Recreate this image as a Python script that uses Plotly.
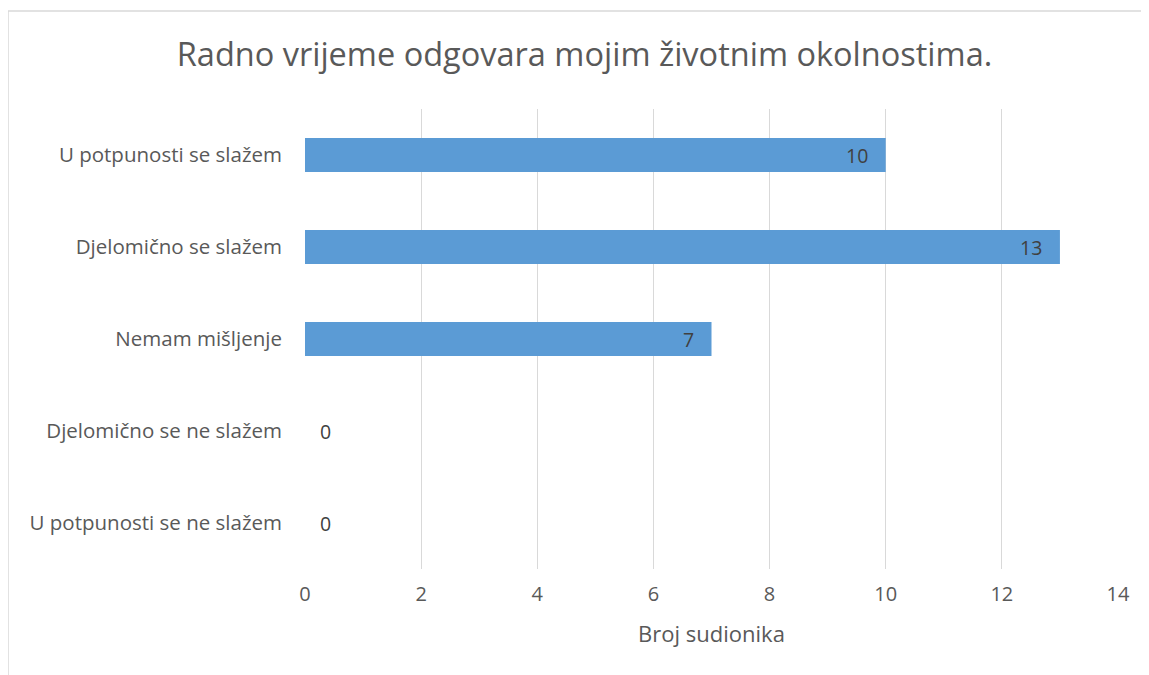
import plotly.graph_objects as go

categories = ["U potpunosti se slažem", "Djelomično se slažem", "Nemam mišljenje",
              "Djelomično se ne slažem", "U potpunosti se ne slažem"]
values = [10, 13, 7, 0, 0]
x_ticks = [0, 2, 4, 6, 8, 10, 12, 14]
title_text = "Radno vrijeme odgovara mojim životnim okolnostima."
x_title = "Broj sudionika"

FONT = "Open Sans"
bar_color = "#5B9BD5"

# page body has an 8px margin, so figure is offset by 8px
W, H = 1149, 675

fig = go.Figure(go.Bar(
    x=values, y=categories, orientation="h",
    marker=dict(color=bar_color, line=dict(width=0)),
    width=0.37,
))

for c, v in zip(categories, values):
    if v > 0:
        fig.add_annotation(x=v, y=c, text=str(v), showarrow=False,
                           xanchor="right", xshift=-16,
                           font=dict(family=FONT, size=19.5, color="#404040"))
    else:
        fig.add_annotation(x=v, y=c, text=str(v), showarrow=False,
                           xanchor="left", xshift=13,
                           font=dict(family=FONT, size=19.5, color="#404040"))

# outer chart border (partially cropped in reference)
fig.add_shape(type="line", xref="paper", yref="paper",
              x0=-0.3653, x1=1.06, y0=1.213, y1=1.213,
              line=dict(color="#D9D9D9", width=1.5))
fig.add_shape(type="line", xref="paper", yref="paper",
              x0=-0.3653, x1=-0.3653, y0=1.213, y1=-0.25,
              line=dict(color="#D9D9D9", width=1.5))

fig.update_layout(
    width=W, height=H,
    margin=dict(l=297, r=39, t=101, b=114, pad=0),
    paper_bgcolor="white", plot_bgcolor="white",
    showlegend=False,
    title=dict(text=title_text, x=(584.5 - 8) / W, xref="container", xanchor="center",
               y=1 - (55 - 8) / H, yanchor="middle",
               font=dict(family=FONT, size=32.5, color="#595959")),
    font=dict(family=FONT, color="#595959"),
    xaxis=dict(range=[0, 14], tickvals=x_ticks, showgrid=True,
               gridcolor="#D9D9D9", gridwidth=1, zeroline=False,
               showline=False, ticks="", ticklabelstandoff=11,
               tickfont=dict(family=FONT, size=20, color="#595959"),
               title=dict(text=x_title, standoff=20,
                          font=dict(family=FONT, size=22, color="#595959"))),
    yaxis=dict(categoryorder="array", categoryarray=categories[::-1],
               showgrid=False, zeroline=False, showline=False, ticks="",
               ticklabelstandoff=22,
               tickfont=dict(family=FONT, size=20.5, color="#595959")),
)

fig.write_html("out.html")
